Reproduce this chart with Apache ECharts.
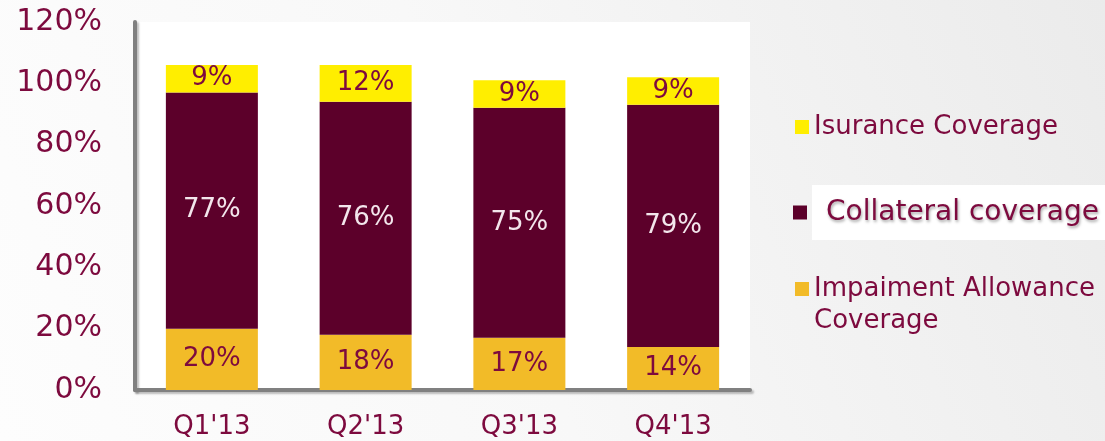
<!DOCTYPE html>
<html>
<head>
<meta charset="utf-8">
<script src="https://cdn.jsdelivr.net/npm/echarts@6/dist/echarts.min.js"></script>
<style>
  html, body { margin: 0; padding: 0; }
  #chart { width: 1105px; height: 441px; }
</style>
</head>
<body>
<div id="chart"></div>
<script>
// quarters and coverage split (%)
const quarters = ["Q1'13", "Q2'13", "Q3'13", "Q4'13"]
const impairment = [20, 18, 17, 14]
const collateral = [77, 76, 75, 79]
const insurance = [9, 12, 9, 9]

const maroon = '#7d0a3e'
const font = 'DejaVu Sans'

const chart = echarts.init(document.getElementById('chart'))

function seg(name, data, color, labelColor) {
  return {
    name,
    type: 'bar',
    stack: 'cov',
    data,
    barWidth: 92,
    itemStyle: { color },
    label: {
      show: true,
      position: 'inside',
      formatter: '{c}%',
      color: labelColor,
      fontFamily: font,
      fontSize: 26
    }
  }
}

chart.setOption({
  backgroundColor: {
    type: 'linear', x: 0, y: 1, x2: 1, y2: 0,
    colorStops: [
      { offset: 0, color: '#fdfdfd' },
      { offset: 0.45, color: '#f8f8f8' },
      { offset: 1, color: '#ebebeb' }
    ]
  },
  animation: false,
  grid: {
    left: 135, right: 355, top: 22, bottom: 51,
    show: true, backgroundColor: '#ffffff', borderWidth: 0
  },
  xAxis: {
    type: 'category',
    data: quarters,
    axisTick: { show: false },
    axisLine: {
      lineStyle: { color: '#808080', width: 4, shadowColor: 'rgba(0,0,0,0.25)', shadowOffsetX: 2, shadowOffsetY: 2, shadowBlur: 2 }
    },
    axisLabel: { color: maroon, fontFamily: font, fontSize: 26, margin: 24 }
  },
  yAxis: {
    type: 'value',
    min: 0, max: 120, interval: 20,
    splitLine: { show: false },
    axisLine: {
      show: true,
      lineStyle: { color: '#808080', width: 4, shadowColor: 'rgba(0,0,0,0.25)', shadowOffsetX: 2, shadowOffsetY: 2, shadowBlur: 2 }
    },
    axisLabel: { color: maroon, fontFamily: font, fontSize: 30, margin: 33, formatter: '{value}%' }
  },
  legend: [
    {
      data: ['Isurance Coverage'],
      left: 795, top: 114, padding: 0,
      itemWidth: 14, itemHeight: 14,
      icon: 'rect',
      textStyle: { color: maroon, fontFamily: font, fontSize: 26, lineHeight: 26 }
    },
    {
      data: ['Collateral coverage'],
      left: 793, top: 185, padding: 0,
      itemWidth: 14, itemHeight: 14,
      icon: 'rect',
      textStyle: {
        color: maroon, fontFamily: font, fontSize: 28, lineHeight: 28,
        backgroundColor: '#ffffff', padding: [13, 12, 14, 14],
        textShadowColor: 'rgba(0,0,0,0.35)', textShadowBlur: 3, textShadowOffsetX: 1, textShadowOffsetY: 2
      }
    },
    {
      data: ['Impaiment Allowance Coverage'],
      left: 795, top: 276, padding: 0,
      itemWidth: 14, itemHeight: 14,
      icon: 'rect',
      formatter: () => 'Impaiment Allowance',
      textStyle: { color: maroon, fontFamily: font, fontSize: 26, lineHeight: 26 }
    }
  ],
  graphic: [
    {
      type: 'text',
      left: 814, top: 308,
      style: { text: 'Coverage', fill: maroon, font: '26px "DejaVu Sans"' }
    }
  ],
  series: [
    seg('Impaiment Allowance Coverage', impairment, '#f2bb28', maroon),
    seg('Collateral coverage', collateral, '#5c002a', '#f3e6ec'),
    seg('Isurance Coverage', insurance, '#ffee00', maroon)
  ]
})
</script>
</body>
</html>
